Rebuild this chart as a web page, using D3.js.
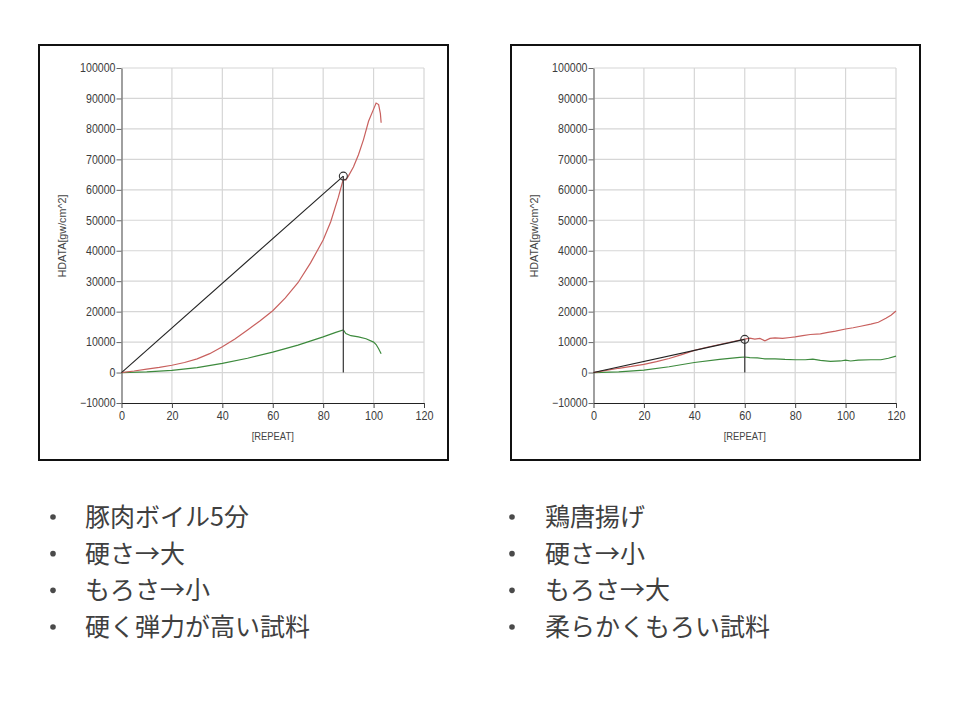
<!DOCTYPE html>
<html>
<head>
<meta charset="utf-8">
<script src="https://cdn.jsdelivr.net/npm/d3@7"></script>
<style>
  body { margin: 0; background: #fff; }
</style>
</head>
<body>
<div id="chart"></div>
<script>
const W = 960, H = 720;

// axis ticks
const repeatTicks = [0, 20, 40, 60, 80, 100, 120];
const hdataTicks = [-10000, 0, 10000, 20000, 30000, 40000, 50000, 60000, 70000, 80000, 90000, 100000];

// 豚肉ボイル5分 : [repeat, hdata]
const porkRed = [[0,0],[5,500],[10,1100],[15,1700],[20,2400],[25,3300],[30,4500],[35,6200],[40,8500],[45,11000],[50,14000],[55,17000],[60,20300],[65,24500],[70,29500],[75,36000],[80,43500],[83,49500],[86,57500],[88,63500],[89,63200],[90,64500],[92,67500],[94,71500],[96,76500],[98,82500],[100,86500],[101,88500],[102,88000],[102.7,85000],[103,82000]];
const porkGreen = [[0,0],[10,250],[20,700],[30,1600],[40,3000],[50,4700],[60,6700],[70,9000],[80,11700],[85,13200],[88,14000],[89,12800],[91,12100],[94,11700],[97,11100],[100,10000],[101,9200],[102,7800],[103,6200]];
const porkPoint = [88, 64500];

// 鶏唐揚げ
const chickenRed = [[0,0],[5,700],[10,1400],[15,2000],[20,2700],[25,3600],[30,4600],[35,5900],[40,7300],[45,8300],[50,9200],[55,10100],[60,11000],[62,11300],[64,11000],[66,11200],[68,10400],[70,11200],[72,11400],[75,11200],[78,11500],[80,11700],[83,12100],[86,12500],[90,12700],[93,13200],[96,13600],[100,14300],[103,14700],[106,15200],[110,15900],[113,16500],[116,17800],[118,18800],[120,20200]];
const chickenGreen = [[0,0],[10,250],[20,800],[30,1900],[40,3300],[50,4300],[58,5000],[60,5100],[62,4900],[65,4800],[68,4500],[72,4500],[76,4300],[80,4200],[84,4200],[87,4400],[90,4000],[94,3700],[98,3800],[100,4100],[102,3800],[105,4100],[110,4200],[114,4200],[117,4700],[120,5400]];
const chickenPoint = [60, 10900];

const porkNotes = ["豚肉ボイル5分", "硬さ→大", "もろさ→小", "硬く弾力が高い試料"];
const chickenNotes = ["鶏唐揚げ", "硬さ→小", "もろさ→大", "柔らかくもろい試料"];

const svg = d3.select("#chart").append("svg")
  .attr("width", W)
  .attr("height", H);

function drawChart(fx, red, green, pt) {
  const frame = { x: fx, y: 45, w: 409, h: 415 };
  const plot = { left: fx + 82.5, right: fx + 385, top: 68, bottom: 403 };

  svg.append("rect")
    .attr("x", frame.x).attr("y", frame.y)
    .attr("width", frame.w).attr("height", frame.h)
    .attr("fill", "#fff")
    .attr("stroke", "#111")
    .attr("stroke-width", 2);

  const x = d3.scaleLinear().domain([0, 120]).range([plot.left, plot.right]);
  const y = d3.scaleLinear().domain([-10000, 100000]).range([plot.bottom, plot.top]);

  const g = svg.append("g");

  // grid
  g.append("g").selectAll("line")
    .data(repeatTicks.slice(1))
    .join("line")
    .attr("x1", d => x(d)).attr("x2", d => x(d))
    .attr("y1", plot.top).attr("y2", plot.bottom)
    .attr("stroke", "#d6d6d6").attr("stroke-width", 1.2);
  g.append("g").selectAll("line")
    .data(hdataTicks.slice(1))
    .join("line")
    .attr("x1", plot.left).attr("x2", plot.right)
    .attr("y1", d => y(d)).attr("y2", d => y(d))
    .attr("stroke", "#d6d6d6").attr("stroke-width", 1.2);

  // axes
  const yAxis = g.append("g")
    .attr("transform", `translate(${plot.left},0)`)
    .call(d3.axisLeft(y).tickValues(hdataTicks).tickFormat(d3.format("d")).tickSize(5).tickPadding(1).tickSizeOuter(0));
  yAxis.select(".domain").attr("stroke", "#888").attr("stroke-width", 1.6);
  yAxis.selectAll(".tick line").attr("stroke", "#666");
  yAxis.selectAll("text")
    .attr("fill", "#3c3c3c")
    .style("font", "12px 'Liberation Sans', Arial, sans-serif")
    .attr("textLength", d => String(d).length * 5.9)
    .attr("lengthAdjust", "spacingAndGlyphs");

  const xAxis = g.append("g")
    .attr("transform", `translate(0,${plot.bottom})`)
    .call(d3.axisBottom(x).tickValues(repeatTicks).tickSize(5).tickPadding(3).tickSizeOuter(0));
  xAxis.select(".domain").attr("stroke", "#222").attr("stroke-width", 1.2);
  xAxis.selectAll(".tick line").attr("stroke", "#444");
  xAxis.selectAll("text")
    .attr("fill", "#3c3c3c")
    .style("font", "12.5px 'Liberation Sans', Arial, sans-serif")
    .attr("textLength", d => String(d).length * 6)
    .attr("lengthAdjust", "spacingAndGlyphs");

  // axis titles
  g.append("text")
    .attr("x", (plot.left + plot.right) / 2)
    .attr("y", 436)
    .attr("text-anchor", "middle")
    .attr("dominant-baseline", "central")
    .attr("fill", "#444")
    .style("font", "11.5px 'Liberation Sans', Arial, sans-serif")
    .attr("textLength", 42)
    .attr("lengthAdjust", "spacingAndGlyphs")
    .text("[REPEAT]");

  g.append("text")
    .attr("transform", `translate(${fx + 22.5},236) rotate(-90)`)
    .attr("text-anchor", "middle")
    .attr("dominant-baseline", "central")
    .attr("fill", "#444")
    .style("font", "10.5px 'Liberation Sans', Arial, sans-serif")
    .attr("textLength", 83)
    .attr("lengthAdjust", "spacingAndGlyphs")
    .text("HDATA[gw/cm^2]");

  const line = d3.line().x(d => x(d[0])).y(d => y(d[1]));

  g.append("path").datum(green)
    .attr("d", line).attr("fill", "none")
    .attr("stroke", "#3d8a3d").attr("stroke-width", 1.2);
  g.append("path").datum(red)
    .attr("d", line).attr("fill", "none")
    .attr("stroke", "#c8605e").attr("stroke-width", 1.2);

  // slope line and drop line to the picked point
  g.append("path").datum([[0, 0], pt])
    .attr("d", line).attr("fill", "none")
    .attr("stroke", "#222").attr("stroke-width", 1.1);
  g.append("path").datum([pt, [pt[0], 0]])
    .attr("d", line).attr("fill", "none")
    .attr("stroke", "#444").attr("stroke-width", 1.3);
  g.append("circle")
    .attr("cx", x(pt[0])).attr("cy", y(pt[1])).attr("r", 4)
    .attr("fill", "none").attr("stroke", "#333").attr("stroke-width", 1.1);
}

drawChart(39, porkRed, porkGreen, porkPoint);
drawChart(511, chickenRed, chickenGreen, chickenPoint);

function drawNotes(bx, tx, notes) {
  const rowY = d3.scaleLinear().domain([0, 3]).range([515, 625]);
  const g = svg.append("g");
  g.selectAll("circle").data(notes).join("circle")
    .attr("cx", bx).attr("cy", (d, i) => rowY(i) + 2)
    .attr("r", 2.8).attr("fill", "#4a4a4a");
  g.selectAll("text").data(notes).join("text")
    .attr("x", tx).attr("y", (d, i) => rowY(i))
    .attr("dominant-baseline", "central")
    .attr("fill", "#404040")
    .style("font", "25px 'Noto Sans CJK JP', sans-serif")
    .text(d => d);
}

drawNotes(53, 85, porkNotes);
drawNotes(512, 545, chickenNotes);
</script>
</body>
</html>
